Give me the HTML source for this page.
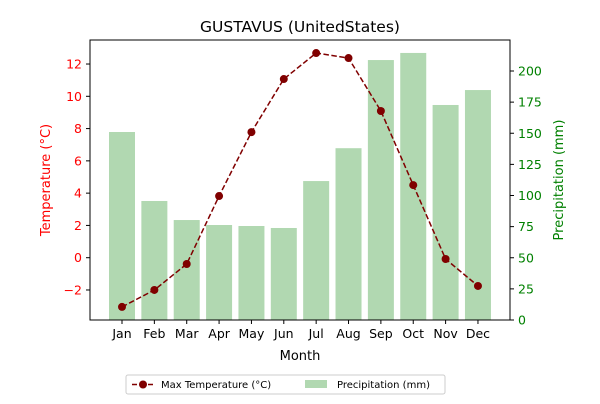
<!DOCTYPE html>
<html><head><meta charset="utf-8"><style>
body{margin:0;background:#fff;font-family:"DejaVu Sans","Liberation Sans",sans-serif}
</style></head><body>
<svg id="c" width="600" height="400" xmlns="http://www.w3.org/2000/svg" font-family="DejaVu Sans, Liberation Sans, sans-serif">
<rect width="600" height="400" fill="#fff"/>
<text x="300" y="32" text-anchor="middle" font-size="15.5">GUSTAVUS (UnitedStates)</text>
<g id="bars"></g><g id="line"></g><g id="axes"></g>
<rect x="90" y="40" width="420" height="280" fill="none" stroke="#000" stroke-width="1"/>
<text x="50" y="180" transform="rotate(-90 50 180)" text-anchor="middle" font-size="13" fill="red">Temperature (°C)</text>
<text x="563" y="180" transform="rotate(-90 563 180)" text-anchor="middle" font-size="13" fill="green">Precipitation (mm)</text>
<text x="300" y="360" text-anchor="middle" font-size="13">Month</text>
<g>
<rect x="126" y="375" width="319" height="19" fill="#fff" stroke="#ccc" rx="2"/>
<line x1="132" y1="384.5" x2="154" y2="384.5" stroke="#800000" stroke-width="1.5" stroke-dasharray="5,3"/>
<circle cx="143" cy="384.5" r="4" fill="#800000"/>
<text x="161" y="388" font-size="10">Max Temperature (°C)</text>
<rect x="305" y="380" width="22" height="8" fill="#b1d8b1"/>
<text x="337" y="388" font-size="10">Precipitation (mm)</text>
</g>
</svg>
<script>
const months=["Jan","Feb","Mar","Apr","May","Jun","Jul","Aug","Sep","Oct","Nov","Dec"];
const temps=[-3.05,-2.0,-0.39,3.82,7.78,11.07,12.68,12.37,9.09,4.5,-0.08,-1.75];
const precip=[151,95.6,80.3,76.3,75.5,73.9,111.6,138,208.8,214.5,172.7,184.7];
const tempTicks=[-2,0,2,4,6,8,10,12];
const precipTicks=[0,25,50,75,100,125,150,175,200];
const NS="http://www.w3.org/2000/svg";
const xS=i=>122+i*32.36;
const yT=v=>257.7-v*16.14;
const yP=v=>320-v*1.245;
function mk(t,a,p){const e=document.createElementNS(NS,t);for(const k in a)e.setAttribute(k,a[k]);p.appendChild(e);return e;}
const bars=document.getElementById('bars'),line=document.getElementById('line'),axes=document.getElementById('axes');
precip.forEach((v,i)=>{const r=mk('rect',{x:xS(i)-13,y:yP(v),width:26,height:320-yP(v),fill:'#b1d8b1'},bars);

});
const pl=mk('polyline',{points:temps.map((v,i)=>xS(i)+','+yT(v)).join(' '),fill:'none',stroke:'#800000','stroke-width':1.5,'stroke-dasharray':'5.5,2.5'},line);


temps.forEach((v,i)=>{const c=mk('circle',{cx:xS(i),cy:yT(v),r:4,fill:'#800000'},line);

});
months.forEach((m,i)=>{mk('line',{x1:xS(i),x2:xS(i),y1:320,y2:324,stroke:'#000'},axes);
const t=mk('text',{x:xS(i),y:338,'text-anchor':'middle','font-size':12.5},axes);t.textContent=m;

});
tempTicks.forEach(v=>{mk('line',{x1:86,x2:90,y1:yT(v),y2:yT(v),stroke:'#000'},axes);
const t=mk('text',{x:82,y:yT(v)+4.5,'text-anchor':'end','font-size':12.5,fill:'red'},axes);t.textContent=v<0?'−'+(-v):v;

});
precipTicks.forEach(v=>{mk('line',{x1:510,x2:514,y1:yP(v),y2:yP(v),stroke:'#000'},axes);
const t=mk('text',{x:518,y:yP(v)+4.5,'font-size':12.5,fill:'green'},axes);t.textContent=v;

});
</script>
</body></html>
